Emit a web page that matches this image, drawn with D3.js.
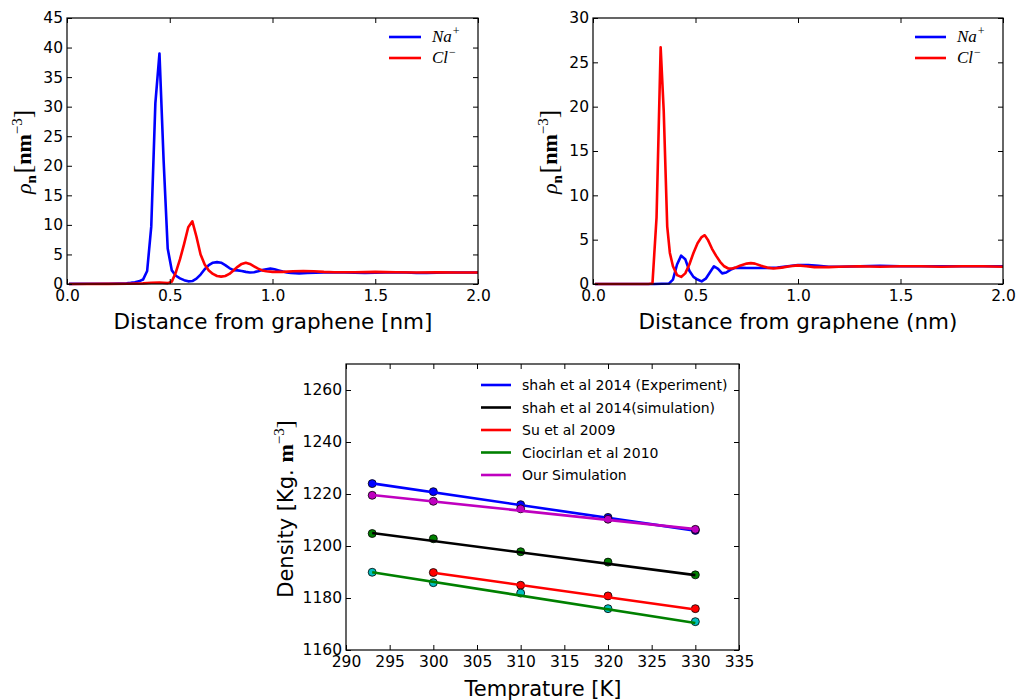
<!DOCTYPE html>
<html><head><meta charset="utf-8">
<script src="https://cdn.jsdelivr.net/npm/d3@7"></script>
<style>body{margin:0;background:#fff}</style>
</head><body><svg id="c" width="1018" height="700" font-family="DejaVu Sans"></svg>
<script>
// ---- Panel A (top-left) ----
const naAX = [0.01,0.1,0.2,0.25,0.29,0.31,0.33,0.35,0.37,0.39,0.41,0.43,0.45,0.47,0.49,0.51,0.53,0.55,0.57,0.59,0.61,0.63,0.65,0.67,0.69,0.71,0.73,0.75,0.77,0.79,0.81,0.83,0.85,0.87,0.89,0.91,0.93,0.95,0.97,0.99,1.01,1.03,1.05,1.07,1.09,1.13,1.17,1.21,1.25,1.3,1.35,1.4,1.45,1.5,1.55,1.6,1.65,1.7,1.75,1.8,1.85,1.9,1.95,2.0];
const naAY = [0.02,0.03,0.05,0.08,0.12,0.2,0.3,0.45,0.75,2.2,9.7,30.6,39.0,21.0,6.0,2.3,1.4,0.95,0.65,0.45,0.5,0.9,1.6,2.5,3.2,3.6,3.7,3.6,3.2,2.7,2.35,2.3,2.2,2.05,1.95,2.0,2.15,2.35,2.5,2.6,2.5,2.3,2.1,1.95,1.85,1.8,1.85,1.9,1.95,2.0,1.95,1.9,1.85,1.9,1.95,2.0,1.95,1.85,1.85,1.9,1.95,1.95,1.95,1.95];
const clAX = [0.01,0.2,0.3,0.37,0.41,0.45,0.49,0.51,0.53,0.55,0.57,0.59,0.61,0.63,0.65,0.67,0.69,0.71,0.73,0.75,0.77,0.79,0.81,0.83,0.85,0.87,0.89,0.91,0.93,0.95,0.97,1.0,1.05,1.1,1.15,1.2,1.25,1.3,1.4,1.5,1.6,1.7,1.8,1.9,2.0];
const clAY = [0.0,0.02,0.05,0.1,0.2,0.25,0.15,0.4,2.0,4.2,6.8,9.6,10.6,8.0,5.0,3.3,2.3,1.7,1.35,1.25,1.35,1.7,2.3,2.9,3.4,3.6,3.4,3.0,2.6,2.3,2.15,2.05,2.05,2.15,2.2,2.15,2.05,2.0,2.0,2.05,2.0,1.95,2.0,1.95,1.95];
// ---- Panel B (top-right) ----
const naBX = [0.01,0.3,0.37,0.39,0.41,0.43,0.45,0.47,0.49,0.51,0.53,0.55,0.57,0.59,0.61,0.63,0.65,0.67,0.69,0.71,0.75,0.8,0.85,0.9,0.95,1.0,1.05,1.1,1.15,1.2,1.3,1.4,1.5,1.6,1.7,1.8,1.9,2.0];
const naBY = [0,0,0.05,0.5,2.2,3.2,2.8,1.5,0.8,0.5,0.3,0.6,1.3,2.0,1.7,1.2,1.3,1.6,1.8,1.85,1.8,1.8,1.8,1.85,2.0,2.15,2.15,2.05,1.95,1.95,2.0,2.05,2.0,2.0,2.0,2.0,2.0,2.0];
const clBX = [0.01,0.27,0.29,0.31,0.33,0.345,0.362,0.375,0.39,0.41,0.43,0.45,0.47,0.49,0.51,0.53,0.545,0.56,0.58,0.60,0.62,0.64,0.66,0.68,0.70,0.72,0.75,0.77,0.79,0.82,0.85,0.88,0.92,0.96,1.0,1.04,1.08,1.15,1.2,1.3,1.4,1.5,1.6,1.7,1.8,1.9,2.0];
const clBY = [0,0,0.05,7.5,26.7,19.5,6.5,3.5,2.0,1.0,0.8,1.2,2.2,3.5,4.6,5.3,5.5,5.0,4.0,3.2,2.5,2.0,1.75,1.75,1.9,2.1,2.3,2.35,2.3,2.05,1.85,1.75,1.85,2.0,2.1,2.0,1.9,1.9,1.95,2.0,1.95,2.0,2.0,1.95,2.0,2.0,1.95];
// ---- Panel C (bottom) ----
const temps = [293,300,310,320,330];
const suTemps = [300,310,320,330];
const expPts = [1224.0,1220.9,1215.9,1211.0,1206.0];
const shahSimPts = [1204.8,1202.8,1197.8,1193.8,1188.9];
const suPts = [1189.8,1184.9,1180.8,1175.9];
const cioPts = [1189.9,1185.9,1181.9,1175.9,1170.9];
const ourPts = [1219.5,1217.2,1214.3,1210.3,1206.4];
// fitted line end values
const expFit = [1224.1,1205.9];
const shahSimFit = [1205.0,1188.8];
const suFit = [1189.7,1175.6];
const cioFit = [1189.9,1170.4];
const ourFit = [1219.6,1206.5];
const legendC = ["shah et al 2014 (Experiment)","shah et al 2014(simulation)","Su et al 2009","Ciocirlan et al 2010","Our Simulation"];
const xTicksTop = [0,0.5,1.0,1.5,2.0];
const yTicksA = [0,5,10,15,20,25,30,35,40,45];
const yTicksB = [0,5,10,15,20,25,30];
const xTicksC = [290,295,300,305,310,315,320,325,330,335];
const yTicksC = [1160,1180,1200,1220,1240,1260];

const svg = d3.select("#c");
svg.append("rect").attr("width",1018).attr("height",700).attr("fill","#fff");

function panel(box, xd, yd, xt, yt, xfmt, yfmt){
  const x = d3.scaleLinear().domain(xd).range([box.l, box.r]);
  const y = d3.scaleLinear().domain(yd).range([box.b, box.t]);
  const g = svg.append("g");
  const gl = g.append("g").attr("class","data");
  const ax = g.append("g");
  const tick = -5;
  ax.append("g").attr("transform",`translate(0,${box.b})`)
    .call(d3.axisBottom(x).tickValues(xt).tickFormat(xfmt).tickSizeInner(tick).tickSizeOuter(0).tickPadding(6));
  ax.append("g").attr("transform",`translate(0,${box.t})`)
    .call(d3.axisTop(x).tickValues(xt).tickFormat("").tickSizeInner(tick).tickSizeOuter(0));
  ax.append("g").attr("transform",`translate(${box.l},0)`)
    .call(d3.axisLeft(y).tickValues(yt).tickFormat(yfmt).tickSizeInner(tick).tickSizeOuter(0).tickPadding(4));
  ax.append("g").attr("transform",`translate(${box.r},0)`)
    .call(d3.axisRight(y).tickValues(yt).tickFormat("").tickSizeInner(tick).tickSizeOuter(0));
  ax.selectAll(".domain").remove();
  ax.selectAll(".tick line").attr("stroke","#000").attr("stroke-width",1);
  ax.selectAll(".tick text").attr("font-size",15.5).attr("font-family","DejaVu Sans").attr("fill","#000");
  g.append("rect").attr("x",box.l).attr("y",box.t).attr("width",box.r-box.l).attr("height",box.b-box.t)
    .attr("fill","none").attr("stroke","#000").attr("stroke-width",1.2);
  return {x,y,gl,g};
}

function curve(p, xs, ys, color){
  const line = d3.line().x(d=>p.x(d[0])).y(d=>p.y(d[1]));
  p.gl.append("path").attr("d", line(d3.zip(xs,ys))).attr("fill","none")
    .attr("stroke",color).attr("stroke-width",2.6).attr("stroke-linejoin","round");
}

function ionLegend(x0, x1, tx){
  const items = [["Na","+","#0000ff",37],["Cl","\u2212","#ff0000",58]];
  items.forEach(it=>{
    svg.append("line").attr("x1",x0).attr("x2",x1).attr("y1",it[3]).attr("y2",it[3])
      .attr("stroke",it[2]).attr("stroke-width",2.6);
    const t = svg.append("text").attr("x",tx).attr("y",it[3]+5).attr("font-family","Liberation Serif")
      .attr("font-style","italic").attr("font-size",17);
    t.append("tspan").text(it[0]);
    t.append("tspan").attr("dy",-7).attr("dx",1).attr("font-size",12).attr("font-style","normal").text(it[1]);
  });
}

function rhoLabel(xb, yc){
  const t = svg.append("text").attr("transform",`translate(${xb},${yc}) rotate(-90)`)
    .attr("text-anchor","middle").attr("font-family","Liberation Serif").attr("font-size",22);
  t.append("tspan").attr("font-style","italic").text("\u03c1");
  t.append("tspan").attr("dy",5).attr("font-size",15).attr("font-weight","bold").text("n");
  t.append("tspan").attr("dy",-5).attr("dx",2).attr("font-size",25).text("[");
  t.append("tspan").attr("font-weight","bold").text("nm");
  t.append("tspan").attr("dy",-9).attr("font-size",15).text("\u22123");
  t.append("tspan").attr("dy",9).attr("font-size",25).text("]");
}

// Panel A
const pA = panel({l:67,r:478,t:18,b:284},[0,2],[0,45],xTicksTop,yTicksA,d3.format(".1f"),d3.format("d"));
curve(pA, naAX, naAY, "#0000ff");
curve(pA, clAX, clAY, "#ff0000");
ionLegend(389,421,432);
svg.append("text").attr("x",273).attr("y",329).attr("text-anchor","middle").attr("font-size",21.5).text("Distance from graphene [nm]");
rhoLabel(31,152);

// Panel B
const pB = panel({l:593,r:1003,t:18,b:284},[0,2],[0,30],xTicksTop,yTicksB,d3.format(".1f"),d3.format("d"));
curve(pB, naBX, naBY, "#0000ff");
curve(pB, clBX, clBY, "#ff0000");
ionLegend(915,946,957);
svg.append("text").attr("x",798).attr("y",329).attr("text-anchor","middle").attr("font-size",21.5).text("Distance from graphene (nm)");
rhoLabel(557,152);

// Panel C
const pC = panel({l:346,r:739,t:364,b:650},[290,335],[1160,1270],xTicksC,yTicksC,d3.format("d"),d3.format("d"));
const seriesC = [
  {name:legendC[0], line:"#0000ff", fill:"#0000ff", tx:temps, pts:expPts, fit:expFit},
  {name:legendC[1], line:"#000000", fill:"#008000", tx:temps, pts:shahSimPts, fit:shahSimFit},
  {name:legendC[2], line:"#ff0000", fill:"#ff0000", tx:suTemps, pts:suPts, fit:suFit},
  {name:legendC[3], line:"#008000", fill:"#00bfbf", tx:temps, pts:cioPts, fit:cioFit},
  {name:legendC[4], line:"#bf00bf", fill:"#bf00bf", tx:temps, pts:ourPts, fit:ourFit}
];
seriesC.forEach(s=>{
  pC.gl.selectAll(null).data(d3.zip(s.tx,s.pts)).enter().append("circle")
    .attr("cx",d=>pC.x(d[0])).attr("cy",d=>pC.y(d[1])).attr("r",4)
    .attr("fill",s.fill).attr("stroke","#000").attr("stroke-width",0.8);
  const fx = [s.tx[0], s.tx[s.tx.length-1]];
  pC.gl.append("line").attr("x1",pC.x(fx[0])).attr("x2",pC.x(fx[1]))
    .attr("y1",pC.y(s.fit[0])).attr("y2",pC.y(s.fit[1]))
    .attr("stroke",s.line).attr("stroke-width",2.6);
});
seriesC.forEach((s,i)=>{
  const yy = 385 + i*22.5;
  svg.append("line").attr("x1",481).attr("x2",511).attr("y1",yy).attr("y2",yy).attr("stroke",s.line).attr("stroke-width",2.6);
  svg.append("text").attr("x",522).attr("y",yy+5).attr("font-size",14).text(s.name);
});
svg.append("text").attr("x",543).attr("y",696).attr("text-anchor","middle").attr("font-size",21).text("Temprature [K]");
{
  const t = svg.append("text").attr("transform","translate(293,509) rotate(-90)").attr("text-anchor","middle").attr("font-size",21);
  t.append("tspan").text("Density [Kg. ");
  t.append("tspan").attr("font-family","Liberation Serif").attr("font-weight","bold").attr("font-size",22).text("m");
  t.append("tspan").attr("dy",-9).attr("font-family","Liberation Serif").attr("font-size",15).text("\u22123");
  t.append("tspan").attr("dy",9).attr("font-family","Liberation Serif").attr("font-size",24).text("]");
}
</script></body></html>
